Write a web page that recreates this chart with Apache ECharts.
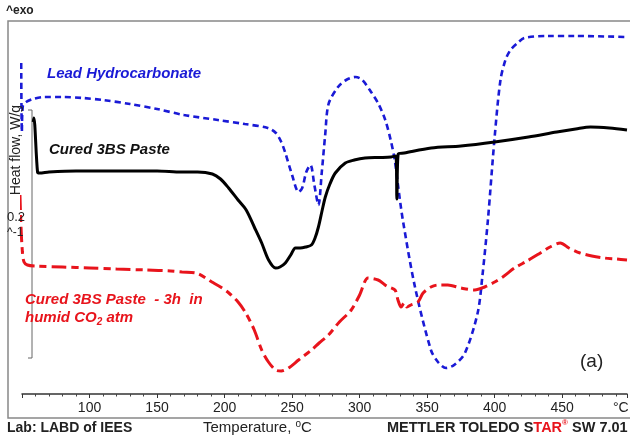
<!DOCTYPE html>
<html>
<head>
<meta charset="utf-8">
<script src="https://cdn.jsdelivr.net/npm/echarts@6/dist/echarts.min.js"></script>
<style>
  html, body { margin: 0; padding: 0; background: #fff; }
  #chart { width: 630px; height: 440px; }
</style>
</head>
<body>
<div id="chart"></div>
<script>
// DSC traces: temperature (°C) and heat flow (W/g, curves offset for display)
const leadTemp = [49.4, 49.9, 50.6, 53, 58, 66, 80, 95, 110, 130, 150, 170, 195, 215, 232, 238, 242, 245, 250, 254.8,
  257.5, 260.5, 263.6, 266.5, 269.5, 272, 274.5, 277, 284, 290, 297, 302, 308.5, 314, 319, 323, 326, 328.4, 332, 341,
  352.8, 358, 364, 370, 378, 387.4, 391, 395, 400, 404.3, 408, 411.7, 417, 422, 439, 460, 498];
const leadFlow = [3.31, 2.62, 2.88, 2.92, 2.95, 2.97, 2.97, 2.96, 2.94, 2.90, 2.85, 2.79, 2.74, 2.70, 2.66, 2.61, 2.52, 2.41, 2.19, 2.02,
  2.06, 2.22, 2.29, 2.09, 1.89, 2.22, 2.59, 2.90, 3.07, 3.14, 3.17, 3.14, 3.02, 2.90, 2.74, 2.54, 2.34, 2.09, 1.74, 1.07,
  0.44, 0.32, 0.26, 0.29, 0.41, 0.81, 1.19, 1.74, 2.57, 3.14, 3.34, 3.44, 3.51, 3.56, 3.58, 3.58, 3.57];

const pasteTemp = [58.3, 58.8, 61.5, 63, 70, 90, 110, 130, 150, 168, 180, 191, 197, 203, 210, 216, 222, 227.5, 232.6, 237.8,
  241, 245, 249, 252.5, 256, 260, 264.3, 267, 269.5, 272, 274.6, 278, 282, 289.4, 296, 304, 315, 323.3, 326.8, 327.6,
  328.6, 333, 353, 375, 400, 425, 446, 460, 471, 485, 498];
const pasteFlow = [2.72, 2.76, 2.22, 2.21, 2.22, 2.23, 2.23, 2.23, 2.23, 2.22, 2.22, 2.20, 2.15, 2.06, 1.94, 1.84, 1.67, 1.51, 1.34, 1.26,
  1.27, 1.31, 1.39, 1.46, 1.46, 1.47, 1.49, 1.56, 1.67, 1.82, 1.97, 2.10, 2.21, 2.31, 2.34, 2.36, 2.365, 2.37, 2.38, 1.95,
  2.40, 2.41, 2.46, 2.48, 2.52, 2.57, 2.62, 2.65, 2.67, 2.66, 2.64];

const co2Temp = [48.5, 49.2, 50.3, 51.5, 54, 60, 80, 100, 120, 142, 160, 168.5, 179, 190.6, 197, 203.2, 210, 215.7, 222, 227.5,
  232.5, 237.8, 242, 247.4, 254.8, 264.3, 270, 276.9, 285, 293.8, 300, 306.3, 313.7, 320, 326.2, 328.4, 330.7, 333, 335, 338,
  343.2, 347, 352.8, 358, 365.3, 375, 385.2, 392.6, 400, 407, 414.7, 424, 433.8, 441, 448.6, 455, 463.3, 472, 481, 490, 498];
const co2Flow = [1.99, 1.69, 1.42, 1.32, 1.29, 1.28, 1.27, 1.26, 1.25, 1.24, 1.23, 1.22, 1.21, 1.12, 1.07, 1.01, 0.92, 0.81, 0.64, 0.44,
  0.32, 0.24, 0.23, 0.26, 0.34, 0.44, 0.51, 0.59, 0.72, 0.84, 0.99, 1.16, 1.14, 1.08, 1.04, 0.94, 0.87, 0.91, 0.87, 0.89,
  0.92, 1.01, 1.07, 1.09, 1.09, 1.06, 1.04, 1.07, 1.12, 1.18, 1.26, 1.33, 1.41, 1.47, 1.51, 1.46, 1.41, 1.38, 1.36, 1.35, 1.34];

const xTickLabels = [100, 150, 200, 250, 300, 350, 400, 450];

const FONT = '"Liberation Sans", Arial, Helvetica, sans-serif';
const zip = (xs, ys) => xs.map((x, i) => [x, ys[i]]);

function txt(x, y, text, extra) {
  return Object.assign({
    type: 'text', x: x, y: y, silent: true, z: 10,
    style: Object.assign({
      text: text, fill: '#222', fontFamily: FONT, fontSize: 14,
      align: 'left', textAlign: 'left', verticalAlign: 'middle', textVerticalAlign: 'middle'
    }, extra || {})
  });
}

const chart = echarts.init(document.getElementById('chart'), null, { renderer: 'canvas' });

const option = {
  animation: false,
  backgroundColor: '#fff',
  grid: { left: 22, right: 0, top: 21, bottom: 46, containLabel: false },
  xAxis: {
    type: 'value', min: 50, max: 498, interval: 50,
    axisLine: { show: true, lineStyle: { color: '#333', width: 1.5 } },
    axisTick: { show: true, length: 4, lineStyle: { color: '#333', width: 1 } },
    minorTick: { show: true, splitNumber: 5, length: 2.5, lineStyle: { color: '#444', width: 1 } },
    splitLine: { show: false },
    axisLabel: {
      margin: 7, fontSize: 14, color: '#222', fontFamily: FONT,
      formatter: v => (xTickLabels.indexOf(v) >= 0 ? String(v) : '')
    }
  },
  yAxis: { type: 'value', min: 0, max: 3.73, show: false },
  series: [
    {
      name: 'Lead Hydrocarbonate', type: 'line', data: zip(leadTemp, leadFlow),
      showSymbol: false, smooth: 0.3, clip: false,
      lineStyle: { color: '#1a1ad6', width: 2.6, type: [6, 4] }
    },
    {
      name: 'Cured 3BS Paste', type: 'line', data: zip(pasteTemp, pasteFlow),
      showSymbol: false, smooth: 0.3, clip: false,
      lineStyle: { color: '#000', width: 3 }
    },
    {
      name: 'Cured 3BS Paste - 3h in humid CO2 atm', type: 'line', data: zip(co2Temp, co2Flow),
      showSymbol: false, smooth: 0.3, clip: false,
      lineStyle: { color: '#e8141c', width: 3, type: [15, 5, 7, 5] }
    }
  ],
  graphic: [
    // plot frame
    { type: 'rect', silent: true, z: 1, shape: { x: 8, y: 21, width: 640, height: 397 },
      style: { fill: 'none', stroke: '#888', lineWidth: 1.5 } },
    // heat-flow scale bar
    { type: 'polyline', silent: true, z: 2, shape: { points: [[28, 110], [32, 110], [32, 358], [28, 358]] },
      style: { fill: 'none', stroke: '#666', lineWidth: 1 } },
    txt(6, 11, '^exo', { fontWeight: 'bold', fontSize: 12 }),
    txt(47, 74, 'Lead Hydrocarbonate', { fill: '#1a1ad6', fontWeight: 'bold', fontStyle: 'italic', fontSize: 15 }),
    txt(49, 150, 'Cured 3BS Paste', { fill: '#111', fontWeight: 'bold', fontStyle: 'italic', fontSize: 15 }),
    txt(25, 300, 'Cured 3BS Paste  - 3h  in', { fill: '#e8141c', fontWeight: 'bold', fontStyle: 'italic', fontSize: 15 }),
    txt(25, 318, '{t|humid CO}{s|2}{t| atm}', {
      rich: {
        t: { fill: '#e8141c', fontWeight: 'bold', fontStyle: 'italic', fontSize: 15, fontFamily: FONT, lineHeight: 18 },
        s: { fill: '#e8141c', fontWeight: 'bold', fontStyle: 'italic', fontSize: 10, fontFamily: FONT, lineHeight: 10, verticalAlign: 'bottom' }
      }
    }),
    txt(580, 362, '(a)', { fontSize: 19 }),
    Object.assign(txt(16, 150, 'Heat flow, W/g', { fontSize: 14, align: 'center', textAlign: 'center' }), { rotation: Math.PI / 2 }),
    txt(7, 217, '0.2', { fontSize: 13 }),
    txt(7, 233, '^-1', { fontSize: 12 }),
    txt(613, 408, '°C', { fontSize: 14 }),
    txt(7, 428, 'Lab: LABD of IEES', { fontWeight: 'bold', fontSize: 14 }),
    txt(203, 428, '{t|Temperature, }{s|o}{t|C}', {
      rich: {
        t: { fill: '#222', fontSize: 15, fontFamily: FONT, lineHeight: 18 },
        s: { fill: '#222', fontSize: 10, fontFamily: FONT, lineHeight: 10, verticalAlign: 'top' }
      }
    }),
    txt(387, 428, '{b|METTLER TOLEDO S}{r|TAR}{c|®}{b| SW 7.01}', {
      rich: {
        b: { fill: '#222', fontWeight: 'bold', fontSize: 14.5, fontFamily: FONT, lineHeight: 18 },
        r: { fill: '#e8141c', fontWeight: 'bold', fontSize: 14.5, fontFamily: FONT, lineHeight: 18 },
        c: { fill: '#e8141c', fontWeight: 'bold', fontSize: 8, fontFamily: FONT, lineHeight: 10, verticalAlign: 'top' }
      }
    })
  ]
};

chart.setOption(option);
</script>
</body>
</html>
